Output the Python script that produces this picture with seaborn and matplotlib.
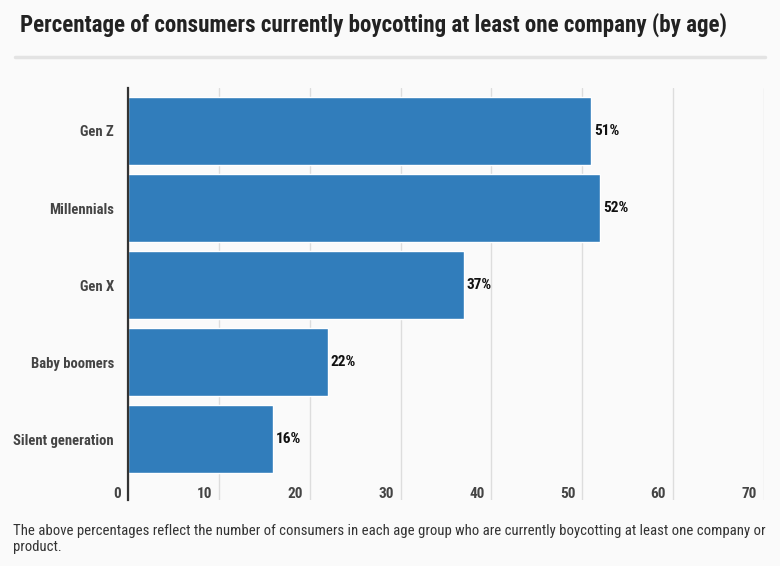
import matplotlib.pyplot as plt
import matplotlib.transforms as mtransforms
import pandas as pd
import seaborn as sns

groups = ['Gen Z', 'Millennials', 'Gen X', 'Baby boomers', 'Silent generation']
pct = [51, 52, 37, 22, 16]
xticks = [0, 10, 20, 30, 40, 50, 60, 70]

df = pd.DataFrame({'group': groups, 'pct': pct})

sns.set_style('white')
plt.rcParams['font.family'] = ['Roboto Condensed', 'Roboto', 'DejaVu Sans']

bg = '#fafafa'
fig = plt.figure(figsize=(7.8, 5.66), dpi=100, facecolor=bg)
ax = fig.add_axes([128 / 780, 66 / 566, 636 / 780, 412 / 566], facecolor=bg)

sns.barplot(data=df, y='group', x='pct', orient='h', color='#317dbb',
            saturation=1, width=0.88, ax=ax)

ax.set_xlim(0, 70)
ax.set_ylim(4.79, -0.558)
ax.set_xticks(xticks)
ax.set_xticklabels([str(t) for t in xticks], ha='right')
ax.grid(axis='x', color='#dddddd', linewidth=1)
ax.set_axisbelow(True)
for s in ['top', 'right', 'bottom']:
    ax.spines[s].set_visible(False)
ax.spines['left'].set_color('#333333')
ax.spines['left'].set_linewidth(1.6)
ax.spines['left'].set_zorder(5)
ax.set_xlabel('')
ax.set_ylabel('')
ax.tick_params(axis='x', length=0, pad=-9, labelsize=11, labelcolor='#444444')
ax.tick_params(axis='y', length=0, pad=10, labelsize=10.5, labelcolor='#444444')
shift = mtransforms.ScaledTranslation(-7 / 100, 0, fig.dpi_scale_trans)
for lbl in ax.get_xticklabels():
    lbl.set_fontweight('bold')
    lbl.set_transform(lbl.get_transform() + shift)
for lbl in ax.get_yticklabels():
    lbl.set_fontweight('bold')

for i, v in enumerate(pct):
    ax.text(v + 0.3, i, f'{v}%', va='center', ha='left', fontsize=11,
            fontweight='bold', color='#111111')

fig.text(20 / 780, 1 - 25 / 566, 'Percentage of consumers currently boycotting at least one company (by age)',
         fontsize=16.6, fontweight='bold', color='#222222', va='center', ha='left')
fig.add_artist(plt.Line2D([15 / 780, 765 / 780], [1 - 57 / 566, 1 - 57 / 566],
                          color='#e3e3e3', linewidth=2.5))
fig.text(13 / 780, 1 - 539 / 566,
         'The above percentages reflect the number of consumers in each age group who are currently boycotting at least one company or\nproduct.',
         fontsize=10.6, color='#333333', va='center', ha='left', linespacing=1.1)

fig.savefig('out.png', dpi=100, facecolor=bg)
